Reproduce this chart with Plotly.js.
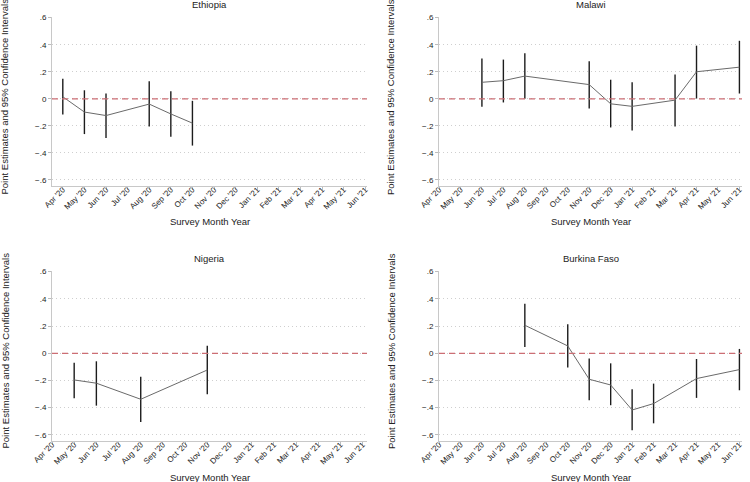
<!DOCTYPE html>
<html>
<head>
<meta charset="utf-8">
<script src="https://cdn.plot.ly/plotly-3.0.1.min.js"></script>
<style>
  html, body { margin: 0; padding: 0; background: #fff; }
  #plot { width: 750px; height: 482px; }
</style>
</head>
<body>
<div id="plot"></div>
<script>
// =========================
// Data
// =========================
const monthLabels = ["Apr '20", "May '20", "Jun '20", "Jul '20", "Aug '20", "Sep '20", "Oct '20",
  "Nov '20", "Dec '20", "Jan '21", "Feb '21", "Mar '21", "Apr '21", "May '21", "Jun '21"];

const yTickVals = [-0.6, -0.4, -0.2, 0, 0.2, 0.4, 0.6];
const yTickText = ['\u2212.6', '\u2212.4', '\u2212.2', '0', '.2', '.4', '.6'];

const ethiopiaMonths = ["Apr '20", "May '20", "Jun '20", "Aug '20", "Sep '20", "Oct '20"];
const ethiopiaEst = [0.015, -0.098, -0.124, -0.039, -0.112, -0.180];
const ethiopiaLow = [-0.117, -0.261, -0.290, -0.205, -0.280, -0.346];
const ethiopiaHigh = [0.149, 0.063, 0.039, 0.129, 0.056, -0.015];

const malawiMonths = ["Jun '20", "Jul '20", "Aug '20", "Nov '20", "Dec '20", "Jan '21", "Mar '21", "Apr '21", "Jun '21"];
const malawiEst = [0.122, 0.134, 0.168, 0.105, -0.037, -0.056, -0.010, 0.200, 0.234];
const malawiLow = [-0.059, -0.027, 0.000, -0.071, -0.212, -0.234, -0.205, 0.002, 0.039];
const malawiHigh = [0.298, 0.290, 0.337, 0.278, 0.141, 0.122, 0.180, 0.393, 0.429];

const nigeriaMonths = ["May '20", "Jun '20", "Aug '20", "Nov '20"];
const nigeriaEst = [-0.196, -0.220, -0.338, -0.123];
const nigeriaLow = [-0.331, -0.385, -0.505, -0.301];
const nigeriaHigh = [-0.069, -0.059, -0.172, 0.056];

const burkinaMonths = ["Aug '20", "Oct '20", "Nov '20", "Dec '20", "Jan '21", "Feb '21", "Apr '21", "Jun '21"];
const burkinaEst = [0.206, 0.054, -0.191, -0.233, -0.417, -0.370, -0.186, -0.120];
const burkinaLow = [0.047, -0.105, -0.346, -0.382, -0.566, -0.515, -0.328, -0.272];
const burkinaHigh = [0.365, 0.213, -0.039, -0.074, -0.265, -0.223, -0.042, 0.032];

// =========================
// Helpers
// =========================
const FONT = 'Liberation Sans, Arial, Helvetica, sans-serif';

function buildTrace(months, est, low, high, xa, ya) {
  return {
    type: 'scatter',
    mode: 'lines',
    x: months.map(m => monthLabels.indexOf(m)),
    y: est,
    xaxis: xa,
    yaxis: ya,
    line: { color: '#6a6a6a', width: 1 },
    error_y: {
      type: 'data',
      symmetric: false,
      array: high.map((h, i) => h - est[i]),
      arrayminus: low.map((l, i) => est[i] - l),
      color: '#1c1c1c',
      thickness: 1.4,
      width: 0
    },
    hoverinfo: 'skip',
    showlegend: false
  };
}

function xAxis(domain, range, anchor) {
  return {
    domain: domain,
    range: range,
    anchor: anchor,
    tickmode: 'array',
    tickvals: monthLabels.map((_, i) => i),
    ticktext: monthLabels,
    tickangle: -45,
    ticks: 'outside',
    ticklen: 3,
    tickcolor: '#bdbdbd',
    ticklabelstandoff: -8,
    showline: true,
    linecolor: '#c8c8c8',
    linewidth: 1,
    showgrid: false,
    zeroline: false,
    tickfont: { family: FONT, size: 8, color: '#222' }
  };
}

function yAxis(domain, anchor) {
  return {
    domain: domain,
    range: [-0.645, 0.605],
    anchor: anchor,
    tickmode: 'array',
    tickvals: yTickVals,
    ticktext: yTickText,
    ticks: 'outside',
    ticklen: 3,
    tickcolor: '#bdbdbd',
    showline: true,
    linecolor: '#c8c8c8',
    linewidth: 1,
    showgrid: true,
    gridcolor: '#cfcfcf',
    gridwidth: 1,
    griddash: '1px,3px',
    zeroline: false,
    tickfont: { family: FONT, size: 8, color: '#222' }
  };
}

// =========================
// Layout
// =========================
const W = 750, H = 482;
const colL = [52 / W, 367 / W];
const colR = [439 / W, 742 / W];
const rowT = [1 - 186 / H, 1 - 17 / H];
const rowB = [1 - 441 / H, 1 - 271 / H];

const data = [
  buildTrace(ethiopiaMonths, ethiopiaEst, ethiopiaLow, ethiopiaHigh, 'x', 'y'),
  buildTrace(malawiMonths, malawiEst, malawiLow, malawiHigh, 'x2', 'y2'),
  buildTrace(nigeriaMonths, nigeriaEst, nigeriaLow, nigeriaHigh, 'x3', 'y3'),
  buildTrace(burkinaMonths, burkinaEst, burkinaLow, burkinaHigh, 'x4', 'y4')
];

const panels = [
  { name: 'Ethiopia', xa: 'x', ya: 'y', col: colL, row: rowT, titleY: 4.5, xtY: 222, ytY: 97, ytX: 4.5 },
  { name: 'Malawi', xa: 'x2', ya: 'y2', col: colR, row: rowT, titleY: 4.5, xtY: 222, ytY: 97, ytX: 391 },
  { name: 'Nigeria', xa: 'x3', ya: 'y3', col: colL, row: rowB, titleY: 258, xtY: 477, ytY: 351, ytX: 4.5 },
  { name: 'Burkina Faso', xa: 'x4', ya: 'y4', col: colR, row: rowB, titleY: 258, xtY: 477, ytY: 351, ytX: 391 }
];

const annotations = [];
const shapes = [];
panels.forEach(p => {
  const cx = (p.col[0] + p.col[1]) / 2;
  const txt = (text, x, y, angle) => ({
    text: text, xref: 'paper', yref: 'paper', x: x, y: 1 - y / H,
    xanchor: 'center', yanchor: 'middle', showarrow: false, textangle: angle || 0,
    font: { family: FONT, size: 9.5, color: '#222' }
  });
  annotations.push(txt(p.name, cx, p.titleY));
  annotations.push(txt('Survey Month Year', cx, p.xtY));
  annotations.push(txt('Point Estimates and 95% Confidence Intervals', p.ytX / W, p.ytY, -90));
  shapes.push({
    type: 'line', xref: p.xa + ' domain', yref: p.ya, x0: 0, x1: 1, y0: 0, y1: 0,
    line: { color: '#cc6e74', width: 1.2, dash: '6px,4px' }, layer: 'above'
  });
});

const layout = {
  width: W,
  height: H,
  margin: { l: 0, r: 0, t: 0, b: 0 },
  paper_bgcolor: '#fff',
  plot_bgcolor: '#fff',
  showlegend: false,
  font: { family: FONT, size: 9, color: '#222' },
  xaxis: xAxis(colL, [-0.5, 14.08], 'y'),
  yaxis: yAxis(rowT, 'x'),
  xaxis2: xAxis(colR, [0, 14.12], 'y2'),
  yaxis2: yAxis(rowT, 'x2'),
  xaxis3: xAxis(colL, [0, 14.2], 'y3'),
  yaxis3: yAxis(rowB, 'x3'),
  xaxis4: xAxis(colR, [0, 14.12], 'y4'),
  yaxis4: yAxis(rowB, 'x4'),
  annotations: annotations,
  shapes: shapes
};

Plotly.newPlot('plot', data, layout, { staticPlot: true });
</script>
</body>
</html>
